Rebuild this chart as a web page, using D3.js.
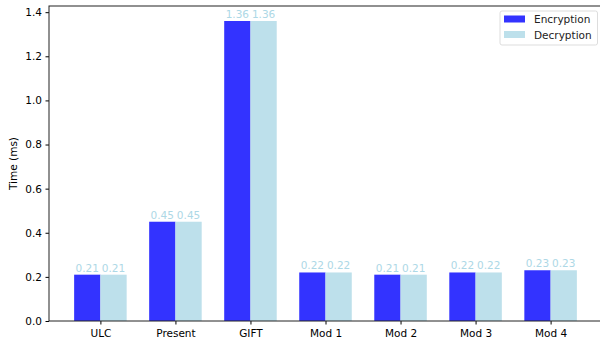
<!DOCTYPE html>
<html>
<head>
<meta charset="utf-8">
<script src="https://cdn.jsdelivr.net/npm/d3@7"></script>
<style>
body { margin: 0; background: #fff; }
text { font-family: "DejaVu Sans", sans-serif; }
</style>
</head>
<body>
<div id="chart"></div>
<script>
var categories = ["ULC", "Present", "GIFT", "Mod 1", "Mod 2", "Mod 3", "Mod 4"];
var encryption = [0.21, 0.45, 1.36, 0.22, 0.21, 0.22, 0.23];
var decryption = [0.21, 0.45, 1.36, 0.22, 0.21, 0.22, 0.23];
var seriesNames = ["Encryption", "Decryption"];
var yTicks = [0.0, 0.2, 0.4, 0.6, 0.8, 1.0, 1.2, 1.4];

var colors = ["rgb(51,51,255)", "rgb(189,224,235)"];
var labelColor = "rgb(173,216,230)";

var width = 600, height = 344;
var plotLeft = 49, plotTop = 6, plotBottom = 321;
var barW = 0.35;

var svg = d3.select("#chart").append("svg")
	.attr("width", width)
	.attr("height", height);

// continuous x like matplotlib: bars at i +/- width/2
var x = d3.scaleLinear()
	.domain([-0.685, 6.685])
	.range([plotLeft, plotLeft + 553]);

var y = d3.scaleLinear()
	.domain([0, 1.428])
	.range([plotBottom, plotTop]);

var series = [encryption, decryption];

series.forEach(function (vals, s)
{
	var off = s === 0 ? -barW : 0;
	svg.selectAll(".bar" + s)
		.data(vals)
		.enter()
		.append("rect")
		.attr("x", function (d, i) { return x(i + off); })
		.attr("y", function (d) { return y(d); })
		.attr("width", function (d, i) { return x(i + off + barW) - x(i + off); })
		.attr("height", function (d) { return y(0) - y(d); })
		.style("fill", colors[s]);

	svg.selectAll(".lab" + s)
		.data(vals)
		.enter()
		.append("text")
		.attr("x", function (d, i) { return x(i + off + barW / 2); })
		.attr("y", function (d) { return y(d) - 3; })
		.attr("text-anchor", "middle")
		.style("font-size", "10.5px")
		.style("fill", labelColor)
		.text(function (d) { return d.toFixed(2); });
});

// axes
var yAxis = svg.append("g")
	.attr("transform", "translate(" + plotLeft + ",0)")
	.call(d3.axisLeft(y).tickValues(yTicks).tickFormat(d3.format(".1f")).tickSize(3.5).tickPadding(3.5));
yAxis.select(".domain").remove();
yAxis.selectAll("text").style("font-size", "10.5px").style("fill", "#000").style("font-family", "DejaVu Sans");

var xAxis = svg.append("g")
	.attr("transform", "translate(0," + plotBottom + ")")
	.call(d3.axisBottom(x).tickValues(d3.range(categories.length)).tickFormat(function (d) { return categories[d]; }).tickSize(3.5).tickPadding(5));
xAxis.select(".domain").remove();
xAxis.selectAll("text").style("font-size", "10.5px").style("fill", "#000").style("font-family", "DejaVu Sans");

// frame
svg.append("rect")
	.attr("x", plotLeft)
	.attr("y", plotTop)
	.attr("width", x.range()[1] - plotLeft)
	.attr("height", plotBottom - plotTop)
	.style("fill", "none")
	.style("stroke", "#222")
	.style("stroke-width", 1);

svg.append("text")
	.attr("transform", "translate(17," + ((plotTop + plotBottom) / 2) + ") rotate(-90)")
	.attr("text-anchor", "middle")
	.style("font-size", "10.5px")
	.text("Time (ms)");

// legend
var legend = svg.append("g").attr("transform", "translate(500,11)");
legend.append("rect")
	.attr("width", 97.5)
	.attr("height", 34)
	.attr("rx", 2)
	.style("fill", "#fff")
	.style("fill-opacity", 0.8)
	.style("stroke", "#ddd");
seriesNames.forEach(function (name, i)
{
	legend.append("rect")
		.attr("x", 4)
		.attr("y", 4.5 + i * 15.5)
		.attr("width", 21)
		.attr("height", 7)
		.style("fill", colors[i]);
	legend.append("text")
		.attr("x", 34)
		.attr("y", 12 + i * 15.5)
		.style("font-size", "10.5px")
		.style("fill", "#222")
		.text(name);
});
</script>
</body>
</html>
